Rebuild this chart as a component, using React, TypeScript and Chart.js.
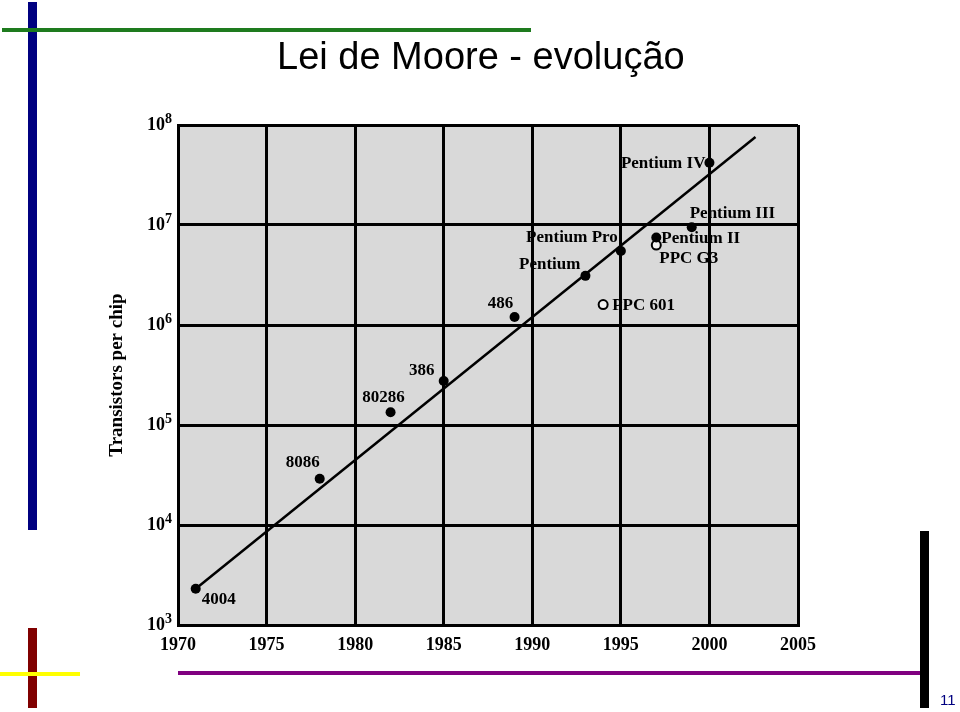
import React, { useEffect, useRef } from "react";
import { Chart, registerables } from "chart.js";

Chart.register(...registerables);

// ---- data ----
const chipNames = ["4004", "8086", "80286", "386", "486", "Pentium", "Pentium Pro", "Pentium II", "Pentium III", "Pentium IV"];
const chipYears = [1971, 1978, 1982, 1985, 1989, 1993, 1995, 1997, 1999, 2000];
const chipTransistors = [2300, 29000, 134000, 275000, 1200000, 3100000, 5500000, 7500000, 9500000, 42000000];

const ppcNames = ["PPC 601", "PPC G3"];
const ppcYears = [1994, 1997];
const ppcTransistors = [1600000, 6300000];

const trendYears = [1971, 2002.6];
const trendTransistors = [2300, 76000000];

const yTickValues = [1e3, 1e4, 1e5, 1e6, 1e7, 1e8];
const yTickBase = "10";
const yTickExponents = ["3", "4", "5", "6", "7", "8"];
const xTickStep = 5;

// ---- label placement (style) ----
const chipLabelStyle = [
  { dx: 6, dy: 11, align: "left" },
  { dx: -17, dy: -16, align: "center" },
  { dx: -7, dy: -15, align: "center" },
  { dx: -22, dy: -10, align: "center" },
  { dx: -14, dy: -13, align: "center" },
  { dx: -5, dy: -11, align: "right" },
  { dx: -3, dy: -13, align: "right" },
  { dx: 5, dy: 1, align: "left" },
  { dx: -2, dy: -14, align: "left" },
  { dx: -4, dy: 1, align: "right" },
];
const ppcLabelStyle = [
  { dx: 9, dy: 1, align: "left" },
  { dx: 3, dy: 14, align: "left" },
];

const SERIF = "'Liberation Serif', 'Times New Roman', serif";

export default function App() {
  const ref = useRef<HTMLCanvasElement | null>(null);

  useEffect(() => {
    if (!ref.current) return;

    const bgPlugin = {
      id: "plotBg",
      beforeDraw(chart: any) {
        const { ctx, chartArea } = chart;
        ctx.save();
        ctx.fillStyle = "#d9d9d9";
        ctx.fillRect(chartArea.left, chartArea.top, chartArea.right - chartArea.left, chartArea.bottom - chartArea.top);
        ctx.restore();
      },
    };

    const yLabelPlugin = {
      id: "yPowLabels",
      afterDraw(chart: any) {
        const { ctx, scales, chartArea } = chart;
        ctx.save();
        ctx.fillStyle = "#000";
        ctx.textBaseline = "middle";
        const right = chartArea.left - 6;
        yTickValues.forEach((v, i) => {
          const py = scales.y.getPixelForValue(v);
          ctx.font = `bold 14px ${SERIF}`;
          const ew = ctx.measureText(yTickExponents[i]).width;
          ctx.textAlign = "left";
          ctx.fillText(yTickExponents[i], right - ew, py - 6);
          ctx.font = `bold 18px ${SERIF}`;
          ctx.textAlign = "right";
          ctx.fillText(yTickBase, right - ew, py);
        });
        ctx.restore();
      },
    };

    const labelPlugin = {
      id: "pointLabels",
      afterDatasetsDraw(chart: any) {
        const { ctx, scales } = chart;
        ctx.save();
        ctx.font = `bold 17px ${SERIF}`;
        ctx.fillStyle = "#000";
        ctx.textBaseline = "middle";
        const draw = (names: string[], xs: number[], ys: number[], st: any[]) => {
          names.forEach((n, i) => {
            const px = scales.x.getPixelForValue(xs[i]);
            const py = scales.y.getPixelForValue(ys[i]);
            ctx.textAlign = st[i].align;
            ctx.fillText(n, px + st[i].dx, py + st[i].dy);
          });
        };
        draw(chipNames, chipYears, chipTransistors, chipLabelStyle);
        draw(ppcNames, ppcYears, ppcTransistors, ppcLabelStyle);
        ctx.restore();
      },
    };

    const chart = new Chart(ref.current, {
      type: "scatter",
      data: {
        datasets: [
          {
            type: "line",
            label: "trend",
            data: trendYears.map((x, i) => ({ x, y: trendTransistors[i] })),
            borderColor: "#000",
            borderWidth: 2.5,
            pointRadius: 0,
            fill: false,
          } as any,
          {
            label: "Intel",
            data: chipYears.map((x, i) => ({ x, y: chipTransistors[i] })),
            backgroundColor: "#000",
            borderColor: "#000",
            pointRadius: 5,
            borderWidth: 0,
          },
          {
            label: "PPC",
            data: ppcYears.map((x, i) => ({ x, y: ppcTransistors[i] })),
            backgroundColor: "#f2f2f2",
            borderColor: "#000",
            pointRadius: 4.5,
            borderWidth: 2,
          },
        ],
      },
      options: {
        responsive: false,
        animation: false,
        devicePixelRatio: 1,
        layout: { padding: { left: 100, right: 162, top: 125, bottom: 47 } },
        plugins: { legend: { display: false }, tooltip: { enabled: false }, title: { display: false } },
        scales: {
          x: {
            type: "linear",
            min: 1970,
            max: 2005,
            afterFit: (s: any) => { s.height = 40; },
            ticks: {
              stepSize: xTickStep,
              color: "#000",
              font: { family: SERIF, size: 18, weight: "bold" },
              padding: 10,
              maxRotation: 0,
              callback: (v: any) => String(v),
            },
            grid: { color: "#000", lineWidth: 3, drawTicks: false },
            border: { display: true, color: "#000", width: 3 },
          },
          y: {
            type: "logarithmic",
            min: 1e3,
            max: 1e8,
            afterFit: (s: any) => { s.width = 78; },
            afterBuildTicks: (s: any) => { s.ticks = yTickValues.map((v) => ({ value: v })); },
            ticks: { display: false },
            grid: { color: "#000", lineWidth: 3, drawTicks: false },
            border: { display: true, color: "#000", width: 3 },
            title: {
              display: true,
              text: "Transistors per chip",
              color: "#000",
              font: { family: SERIF, size: 19, weight: "bold" },
              padding: { top: 6, bottom: 0 },
            },
          },
        },
      } as any,
      plugins: [bgPlugin, labelPlugin, yLabelPlugin],
    });
    return () => chart.destroy();
  }, []);

  const abs = (s: React.CSSProperties): React.CSSProperties => ({ position: "absolute", ...s });

  return (
    <div style={{ position: "fixed", left: 0, top: 0, width: 960, height: 712, background: "#fff", overflow: "hidden" }}>
      <canvas ref={ref} width={960} height={712} style={abs({ left: 0, top: 0, width: 960, height: 712 })} />
      <div style={abs({ left: 28, top: 2, width: 9, height: 528, background: "#000080" })} />
      <div style={abs({ left: 2, top: 28, width: 529, height: 4, background: "#1e7b1e" })} />
      <div style={abs({ left: 28, top: 628, width: 9, height: 80, background: "#800000" })} />
      <div style={abs({ left: 0, top: 672, width: 80, height: 4, background: "#ffff00" })} />
      <div style={abs({ left: 178, top: 671, width: 750, height: 4, background: "#800080" })} />
      <div style={abs({ left: 920, top: 531, width: 9, height: 177, background: "#000" })} />
      <div
        style={abs({
          left: 277,
          top: 37,
          fontFamily: "'Liberation Sans', Arial, sans-serif",
          fontSize: 38,
          lineHeight: "38px",
          color: "#000",
          whiteSpace: "nowrap",
        })}
      >
        Lei de Moore - evolução
      </div>
      <div
        style={abs({
          left: 940,
          top: 691,
          fontFamily: "'Liberation Sans', Arial, sans-serif",
          fontSize: 15,
          lineHeight: "18px",
          color: "#000080",
        })}
      >
        11
      </div>
    </div>
  );
}
